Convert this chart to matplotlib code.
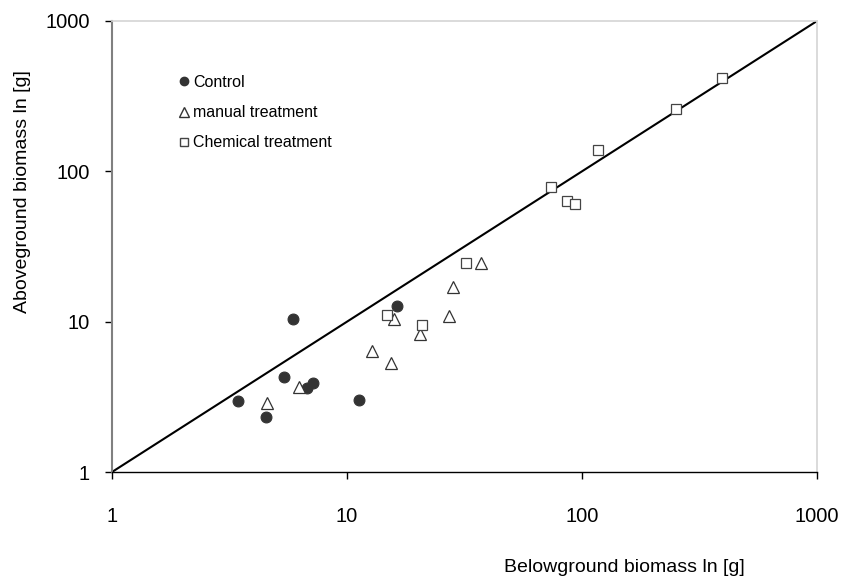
import matplotlib.pyplot as plt
from matplotlib.lines import Line2D

plt.rcParams['font.family'] = ['Liberation Sans', 'DejaVu Sans']

# belowground (x) vs aboveground (y) biomass per treatment
control_x = [3.43, 4.52, 5.91, 5.38, 6.78, 7.19, 11.25, 16.27]
control_y = [2.97, 2.33, 10.47, 4.31, 3.61, 3.89, 3.01, 12.72]

manual_x = [4.55, 6.27, 12.78, 15.35, 15.85, 20.46, 27.25, 28.34, 37.07]
manual_y = [2.89, 3.66, 6.41, 5.34, 10.38, 8.28, 10.91, 16.94, 24.47]

chem_x = [14.84, 20.79, 31.99, 73.8, 86.1, 93.4, 117.3, 250.5, 395.4]
chem_y = [11.03, 9.55, 24.47, 79.1, 63.8, 60.4, 138.8, 258.9, 416.0]

# 1:1 reference line
line_x = [1, 1000]
line_y = [1, 1000]

ticks = [1, 10, 100, 1000]
tick_labels = ['1', '10', '100', '1000']

fig = plt.figure(figsize=(8.45, 5.83), dpi=100)
ax = fig.add_axes([112 / 845, 111 / 583, 705 / 845, 451 / 583])

ax.plot(line_x, line_y, color='black', lw=1.5, zorder=2)
ax.plot(control_x, control_y, 'o', ms=7.8, mfc='#333333', mec='#333333',
        mew=0.8, ls='none', zorder=3)
ax.plot(manual_x, manual_y, '^', ms=8, mfc='white', mec='#333333',
        mew=0.9, ls='none', zorder=3)
ax.plot(chem_x, chem_y, 's', ms=7.2, mfc='white', mec='#444444',
        mew=0.9, ls='none', zorder=3)

ax.set_xscale('log')
ax.set_yscale('log')
ax.set_xlim(1, 1000)
ax.set_ylim(1, 1000)
ax.set_xticks(ticks)
ax.set_xticklabels(tick_labels)
ax.set_yticks(ticks)
ax.set_yticklabels(tick_labels)
ax.minorticks_off()

ax.tick_params(axis='x', direction='out', length=5, width=1, pad=20,
               labelsize=14.5)
ax.tick_params(axis='y', direction='out', length=5, width=1, pad=11,
               labelsize=14.5)

ax.spines['left'].set_color('#808080')
ax.spines['left'].set_linewidth(1.5)
ax.spines['bottom'].set_color('black')
ax.spines['bottom'].set_linewidth(1)
for side in ['top', 'right']:
    ax.spines[side].set_color('#d4d4d4')
    ax.spines[side].set_linewidth(1.2)

handles = [
    Line2D([], [], marker='o', ls='none', ms=6, mfc='#333333', mec='#333333'),
    Line2D([], [], marker='^', ls='none', ms=7, mfc='white', mec='#333333'),
    Line2D([], [], marker='s', ls='none', ms=5.5, mfc='white', mec='#444444'),
]
ax.legend(handles, ['Control', 'manual treatment', 'Chemical treatment'],
          loc='upper left', bbox_to_anchor=(179 / 845, 1 - 75 / 583),
          bbox_transform=fig.transFigure, frameon=False, fontsize=11.5,
          handlelength=0.6, handletextpad=0.3, labelspacing=0.95,
          borderpad=0, borderaxespad=0)

fig.text(23 / 845, 1 - 192 / 583, 'Aboveground biomass ln [g]', rotation=90,
         ha='center', va='center', fontsize=14)
fig.text(624 / 845, 1 - 567 / 583, 'Belowground biomass ln [g]',
         ha='center', va='center', fontsize=14)

fig.savefig('out.png', dpi=100)
